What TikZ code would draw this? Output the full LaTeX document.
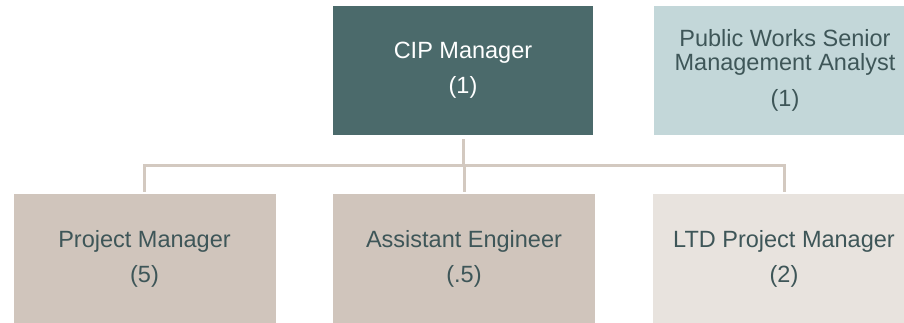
\documentclass[tikz,border=0pt]{standalone}
\usepackage{fontspec}
\setmainfont{Liberation Sans}
\usetikzlibrary{positioning}

\definecolor{cipteal}{HTML}{4B6A6B}
\definecolor{analystblue}{HTML}{C3D7D9}
\definecolor{staffbeige}{HTML}{D0C5BC}
\definecolor{ltdbeige}{HTML}{E8E3DE}
\definecolor{labelteal}{HTML}{3E5658}
\definecolor{linkbeige}{HTML}{D3C9C0}

\begin{document}
\begin{tikzpicture}[x=1pt, y=-1pt,
  box/.style = {minimum width=262pt, minimum height=129pt, inner sep=0pt,
                align=center, text=labelteal,
                font=\fontsize{23.5}{24}\selectfont},
  link/.style = {linkbeige, line width=3pt, line join=miter},
]
\useasboundingbox (0, 0) rectangle (904, 322);

\node[box, fill=cipteal, text=white, minimum width=260pt] (cip) at (463, 70.5) {CIP Manager\\[11pt](1)};
\node[box, fill=analystblue] (analyst) at (785, 70.5) {Public Works Senior\\Management Analyst\\[12pt](1)};

\node[box, fill=staffbeige] (pm) at (144.5, 258.5) {Project Manager\\[11pt](5)};
\node[box, fill=staffbeige] (ae) at (464, 258.5) {Assistant Engineer\\[11pt](.5)};
\node[box, fill=ltdbeige] (ltd) at (784, 258.5) {LTD Project Manager\\[11pt](2)};

\draw[link, shorten <=4pt] (cip.south) -- ++(0, 30) coordinate (hub);
\draw[link, shorten >=2pt] (hub) -| (pm.north);
\draw[link, shorten >=2pt] (hub) -| (ltd.north);
\draw[link, shorten >=2pt] (hub) -- (hub -| ae.north) -- (ae.north);
\end{tikzpicture}
\end{document}
